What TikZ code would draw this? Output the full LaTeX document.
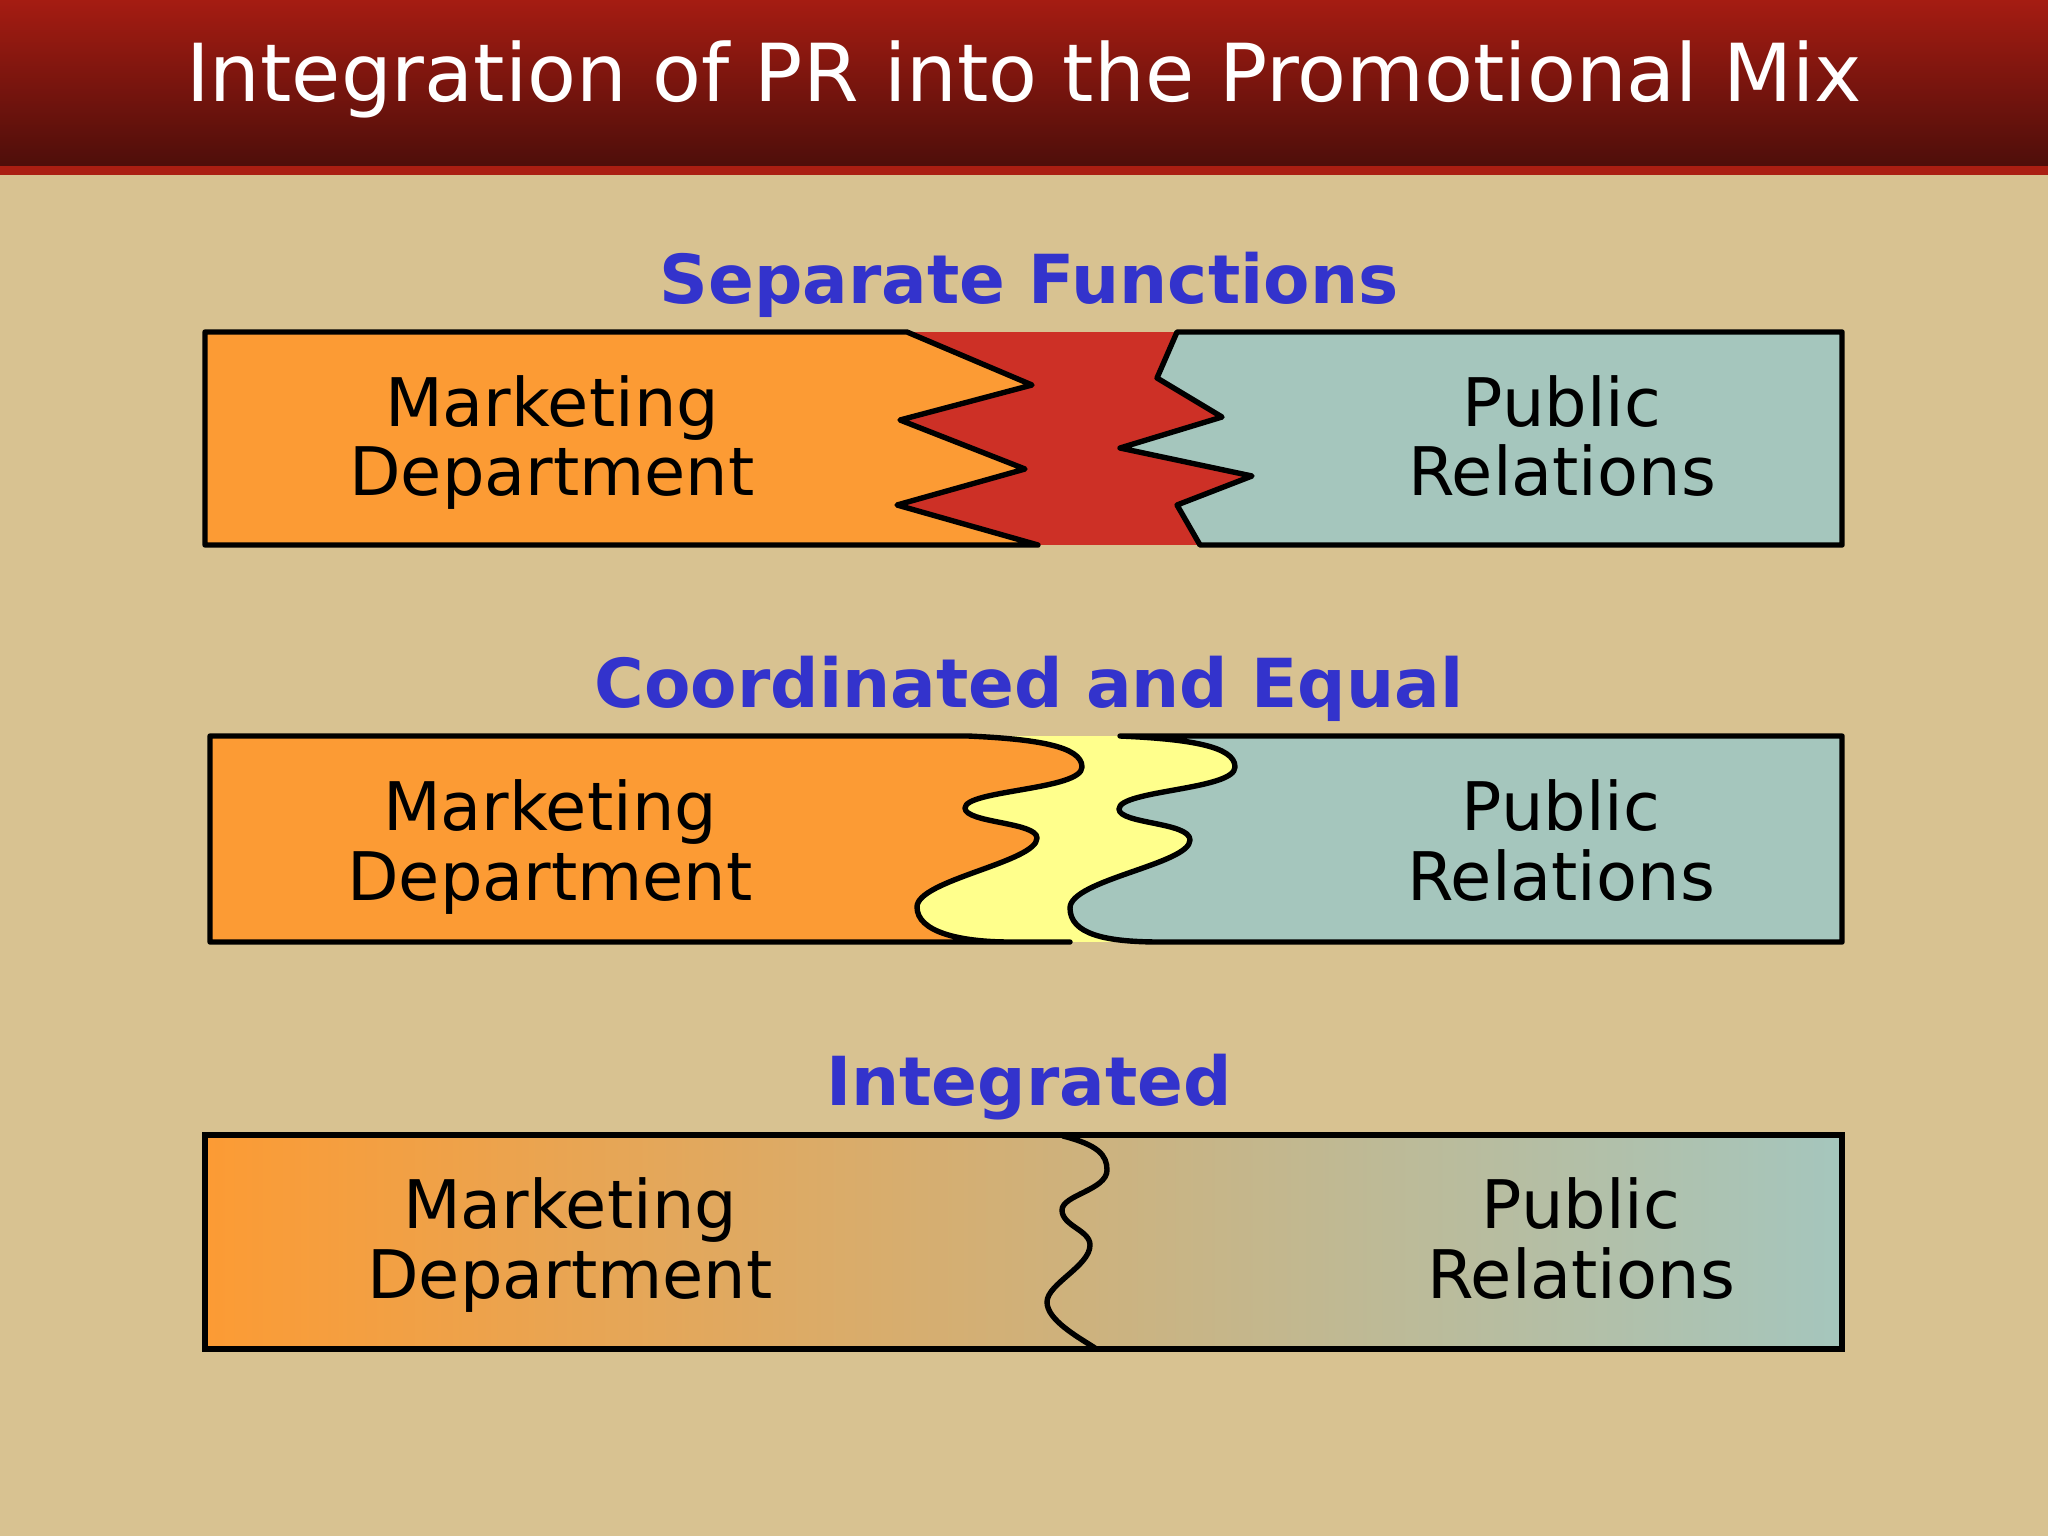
\documentclass[tikz,border=0pt]{standalone}
\usepackage{fontspec}
\setmainfont{DejaVu Sans}
\definecolor{bgtan}{RGB}{216,194,145}
\definecolor{hdtop}{RGB}{165,28,18}
\definecolor{hdbot}{RGB}{78,14,10}
\definecolor{hdstripe}{RGB}{170,30,18}
\definecolor{mkorange}{RGB}{252,155,52}
\definecolor{prteal}{RGB}{165,198,189}
\definecolor{gapred}{RGB}{205,48,38}
\definecolor{gapyellow}{RGB}{255,255,140}
\definecolor{midtan}{RGB}{208,177,122}
\definecolor{headblue}{RGB}{51,51,204}
\tikzset{
  outline/.style={draw=black, line width=2.7pt, line join=round, line cap=round},
  bodytext/.style={anchor=base, inner sep=0pt, text=black, font=\fontsize{33.5}{34.5}\selectfont},
  sectitle/.style={anchor=base, inner sep=0pt, text=headblue, font=\fontsize{33.8}{34.5}\selectfont\bfseries},
}
\begin{document}
\begin{tikzpicture}[x=0.5pt, y=-0.5pt]
\useasboundingbox (0,0) rectangle (2048,1536);
\fill[bgtan] (0,0) rectangle (2048,1536);
% header
\shade[top color=hdtop, bottom color=hdbot] (0,0) rectangle (2048,166);
\fill[hdstripe] (0,166) rectangle (2048,175);
\node[anchor=base, inner sep=0pt, text=white, font=\fontsize{40}{44}\selectfont] (title) at (1024,102) {Integration of PR into the Promotional Mix};

% ---------- Separate Functions ----------
\node[sectitle] (sep) at (1029,303) {Separate Functions};
\fill[gapred] (880,332) rectangle (1270,545);
\path[outline, fill=mkorange] (205,332) -- (907,332) -- (1032,385) -- (900,420) -- (1025,469) -- (897,505) -- (1038,545) -- (205,545) -- cycle;
\path[outline, fill=prteal] (1842,332) -- (1177,332) -- (1157,378) -- (1222,417) -- (1120,448) -- (1252,476) -- (1177,505) -- (1200,545) -- (1842,545) -- cycle;
\node[bodytext] (mk1a) at (552,426) {Marketing};
\node[bodytext] (mk1b) at (552,495) {Department};
\node[bodytext] (pr1a) at (1562,426) {Public};
\node[bodytext] (pr1b) at (1562,495) {Relations};

% ---------- Coordinated and Equal ----------
\node[sectitle] (coord) at (1029,707) {Coordinated and Equal};
\fill[gapyellow] (890,736) rectangle (1250,942);
\path[outline, fill=mkorange] (210,736) -- (968,736)
  .. controls (1035,739) and (1082,746) .. (1082,767)
  .. controls (1082,790) and (965,790) .. (965,808)
  .. controls (965,823) and (1037,822) .. (1037,838)
  .. controls (1037,862) and (917,880) .. (917,907)
  .. controls (917,932) and (960,942) .. (1010,942)
  -- (1070,942) -- (210,942) -- cycle;
\path[outline, fill=prteal] (1842,736) -- (1120,736)
  .. controls (1188,739) and (1235,746) .. (1235,767)
  .. controls (1235,790) and (1119,790) .. (1119,809)
  .. controls (1119,824) and (1190,822) .. (1190,840)
  .. controls (1190,864) and (1070,880) .. (1070,908)
  .. controls (1070,934) and (1105,942) .. (1160,942)
  -- (1842,942) -- cycle;
\node[bodytext] (mk2a) at (550,830) {Marketing};
\node[bodytext] (mk2b) at (550,900) {Department};
\node[bodytext] (pr2a) at (1561,830) {Public};
\node[bodytext] (pr2b) at (1561,900) {Relations};

% ---------- Integrated ----------
\node[sectitle] (integ) at (1029,1105) {Integrated};
\shade[left color=mkorange, middle color=midtan, right color=prteal] (205,1135) rectangle (1842,1349);
\draw[outline] (1063,1136)
  .. controls (1098,1145) and (1107,1155) .. (1107,1170)
  .. controls (1107,1190) and (1062,1195) .. (1062,1210)
  .. controls (1062,1226) and (1090,1230) .. (1090,1245)
  .. controls (1090,1266) and (1047,1284) .. (1047,1302)
  .. controls (1047,1320) and (1078,1337) .. (1095,1348);
\draw[outline, line join=miter] (205,1135) rectangle (1842,1349);
\node[bodytext] (mk3a) at (570,1228) {Marketing};
\node[bodytext] (mk3b) at (570,1298) {Department};
\node[bodytext] (pr3a) at (1581,1228) {Public};
\node[bodytext] (pr3b) at (1581,1298) {Relations};
\end{tikzpicture}
\end{document}
